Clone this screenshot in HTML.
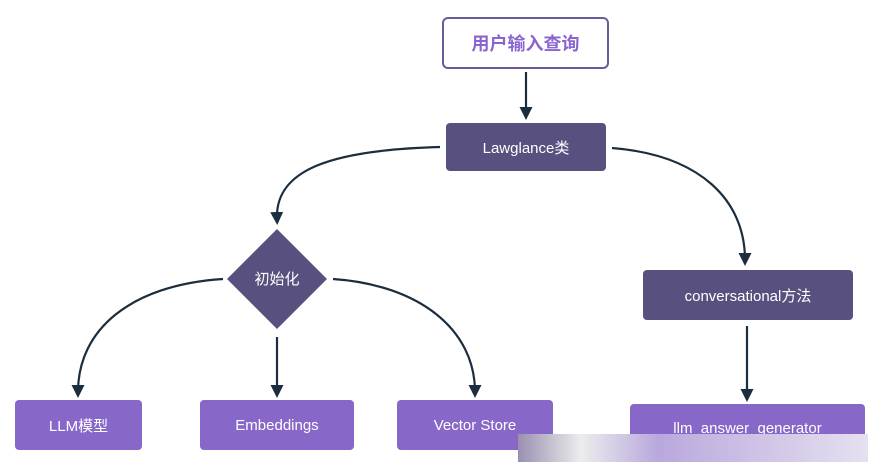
<!DOCTYPE html>
<html><head><meta charset="utf-8"><style>
body{margin:0;width:883px;height:462px;background:#fff;position:relative;overflow:hidden;font-family:"Liberation Sans","Noto Sans CJK SC",sans-serif}
.b{position:absolute;display:flex;align-items:center;justify-content:center;color:#fff;font-size:15px;border-radius:4px;box-sizing:border-box}
.d{background:#58517f}
.p{background:#8768c9}
</style></head><body>
<svg width="883" height="462" style="position:absolute;left:0;top:0">
<defs><marker id="a" markerWidth="13" markerHeight="13" refX="7" refY="6.5" orient="auto" markerUnits="userSpaceOnUse"><path d="M0,0 L13,6.5 L0,13 z" fill="#1c2e3e"/></marker></defs>
<g stroke="#1c2e3e" stroke-width="2.2" fill="none" marker-end="url(#a)">
<path d="M526,72 L526,114"/>
<path d="M440,147 C330,150 275,170 277,219"/>
<path d="M612,148 C700,155 745,200 745,260"/>
<path d="M223,279 C130,285 78,330 78,392"/>
<path d="M277,337 L277,392"/>
<path d="M333,279 C420,285 475,330 475,392"/>
<path d="M747,326 L747,396"/>
</g>
<polygon points="277,229 327,279 277,329 227,279" fill="#58517f"/>
<text x="277" y="284" fill="#fff" font-size="15" text-anchor="middle" font-family="Liberation Sans,Noto Sans CJK SC,sans-serif">初始化</text>
</svg>
<div class="b" style="left:442px;top:17px;width:167px;height:52px;border:2px solid #6a5c9a;border-radius:6px;color:#8a65d0;font-weight:bold;font-size:18px">用户输入查询</div>
<div class="b d" style="left:446px;top:123px;width:160px;height:48px">Lawglance类</div>
<div class="b d" style="left:643px;top:270px;width:210px;height:50px">conversational方法</div>
<div class="b p" style="left:15px;top:400px;width:127px;height:50px">LLM模型</div>
<div class="b p" style="left:200px;top:400px;width:154px;height:50px">Embeddings</div>
<div class="b p" style="left:397px;top:400px;width:156px;height:50px">Vector Store</div>
<div class="b p" style="left:630px;top:404px;width:235px;height:58px;align-items:flex-start;padding-top:16px">llm_answer_generator</div>
<div style="position:absolute;left:518px;top:434px;width:350px;height:28px;background:linear-gradient(90deg,#9a90b0,#ececec 18%,#b9a8dd 40%,#e6e0f0 100%)"></div>
</body></html>
